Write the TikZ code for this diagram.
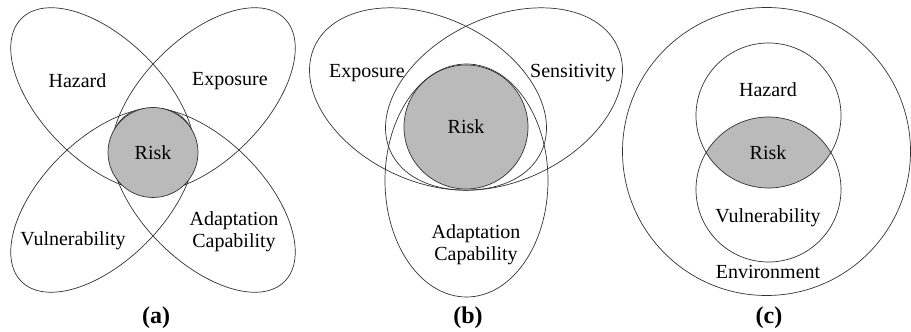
\documentclass[tikz,border=0pt]{standalone}
\usepackage{fontspec}
\setmainfont{Liberation Serif}
\usetikzlibrary{positioning}

\begin{document}
\begin{tikzpicture}[x=1pt, y=1pt,
		set/.style={draw=black!80, line width=0.7pt},
		lab/.style={font=\fontsize{20}{22}\selectfont, inner sep=0pt, align=center},
		core/.style={lab, circle, draw=black!80, line width=0.7pt, fill=black!27},
		panel/.style={font=\fontsize{24}{26}\selectfont\bfseries, inner sep=0pt}]
		\useasboundingbox (0,0) rectangle (911,332);
		% (a) four petals, the risk circle on top of their tips
		\foreach \dx/\dy in {-1/1, 1/1, -1/-1, 1/-1}
		{
			\draw[set, shift={(153+50.2*\dx, 182+50.2*\dy)}, rotate=45*\dx*\dy] (0,0) ellipse (115 and 61);
		}
		\node[core, minimum size=90pt] (riskA) at (153,179.5) {Risk};
		\node[lab] (hazA) at (77.5,251) {Hazard};
		\node[lab] (expA) at (230,251) {Exposure};
		\node[lab] (vulA) at (73,91) {Vulnerability};
		\node[lab] (adaA) at (234,100) {Adaptation\\Capability};
		\node[panel] (capA) at (156,14) {(a)};
		% (b)
		\node[core, minimum size=124pt] (riskB) at (466,205) {};
		\draw[set, shift={(428,233)}, rotate=-25] (0,0) ellipse (125 and 82);
		\draw[set, shift={(504,233)}, rotate=25] (0,0) ellipse (125 and 82);
		\draw[set] (466.5,151.5) ellipse (81.5 and 116.5);
		\node[lab] (riskBt) at (riskB) {Risk};
		\node[lab] (expB) at (367,259) {Exposure};
		\node[lab] (senB) at (573,259) {Sensitivity};
		\node[lab] (adaB) at (476,87) {Adaptation\\Capability};
		\node[panel] (capB) at (468,14) {(b)};
		% (c)
		\draw[set] (766.5,180.5) circle (144);
		\begin{scope}
			\clip (768.5,216.5) circle (72.5);
			\fill[black!27] (768.5,142.5) circle (72.5);
		\end{scope}
		\draw[set] (768.5,216.5) circle (72.5);
		\draw[set] (768.5,142.5) circle (72.5);
		\node[lab] (hazC) at (768,242) {Hazard};
		\node[lab] (riskC) at (768,179) {Risk};
		\node[lab] (vulC) at (768,114) {Vulnerability};
		\node[lab] (envC) at (768,60) {Environment};
		\node[panel] (capC) at (769,14) {(c)};
\end{tikzpicture}
\end{document}
